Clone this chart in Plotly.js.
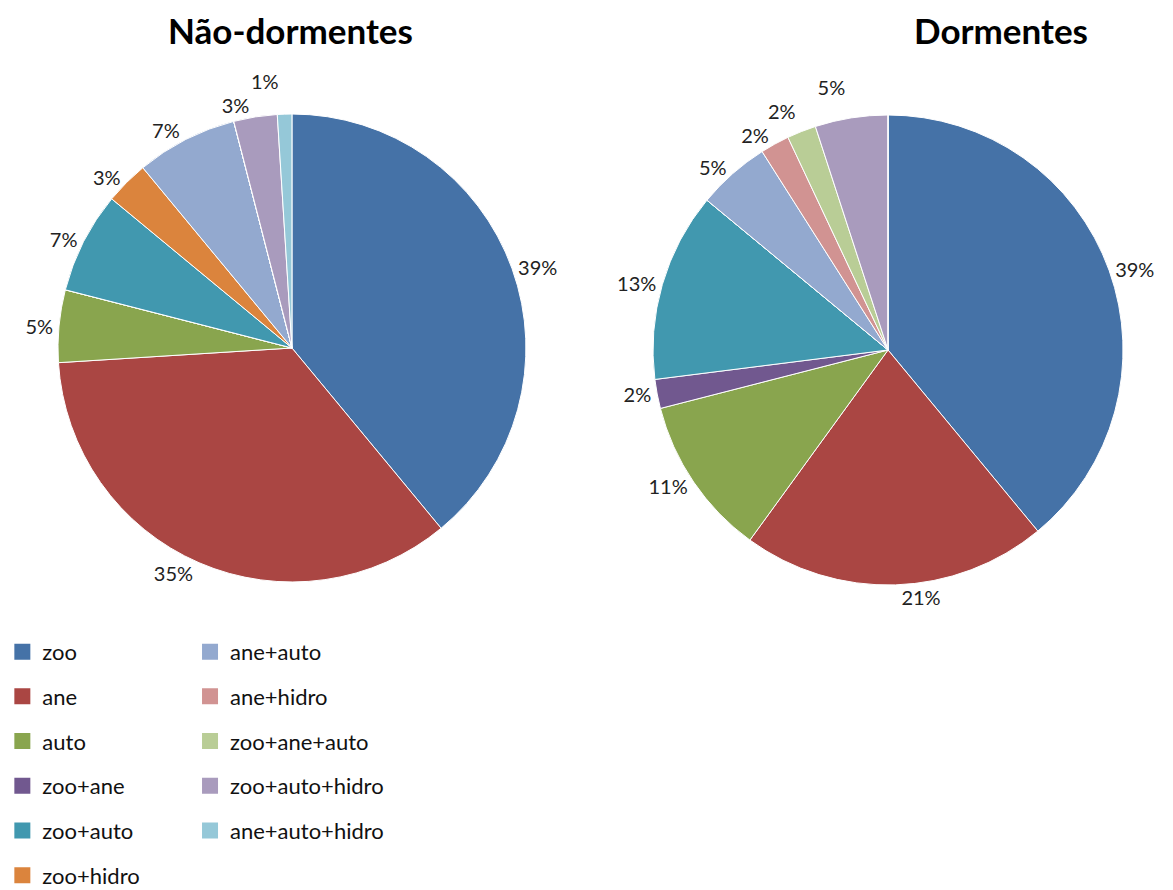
<!DOCTYPE html>
<html>
<head>
<meta charset="utf-8">
<script src="https://cdn.plot.ly/plotly-3.0.1.min.js"></script>
<style>
  body { margin: 0; background: #fff; }
  #plot { width: 1173px; height: 890px; }
  /* the original chart has no leader lines on the labels */
  .pielayer path.textline { display: none !important; }
</style>
</head>
<body>
<div id="plot"></div>
<script>
// categories (dispersal syndromes)
let categories = ['zoo', 'ane', 'auto', 'zoo+ane', 'zoo+auto', 'zoo+hidro',
                  'ane+auto', 'ane+hidro', 'zoo+ane+auto', 'zoo+auto+hidro', 'ane+auto+hidro']

// percentages
let naoDormentes = [39, 35, 5, 0, 7, 3, 7, 0, 0, 3, 1]
let dormentes    = [39, 21, 11, 2, 13, 0, 5, 2, 2, 5, 0]

// excel 2007 palette
let colors = ['#4572A7', '#AA4643', '#89A54E', '#71588F', '#4198AF', '#DB843D',
              '#93A9CF', '#D19392', '#B9CD96', '#A99BBD', '#95C8D8']

let font = 'Lato, "Open Sans", sans-serif'

// only label slices that exist
let pctText = vals => vals.map(v => v ? v + '%' : '')

let pieBase = {
    type: 'pie',
    labels: categories,
    sort: false,
    direction: 'clockwise',
    rotation: 0,
    textinfo: 'text',
    textposition: 'outside',
    outsidetextfont: {family: font, size: 20, color: '#222'},
    marker: {colors: colors, line: {color: '#fff', width: 1}},
    showlegend: false,
    hoverinfo: 'label+percent'
}

let trace1 = Object.assign({}, pieBase, {
    values: naoDormentes,
    text: pctText(naoDormentes),
    domain: {x: [0.0494, 0.4484], y: [0.3461, 0.8719]}
})

let trace2 = Object.assign({}, pieBase, {
    values: dormentes,
    text: pctText(dormentes),
    domain: {x: [0.5567, 0.9574], y: [0.3427, 0.8708]}
})

// legend entries: first six in one column, the rest in a second
let legendTraces = categories.map((c, i) => ({
    type: 'scatter',
    mode: 'markers',
    x: [null],
    y: [null],
    name: c,
    legendgroup: c,
    legend: i < 6 ? 'legend' : 'legend2',
    marker: {symbol: 'square', size: 16, color: colors[i]},
    hoverinfo: 'skip'
}))

let data = [trace1, trace2].concat(legendTraces)

let legendStyle = {
    font: {family: font, size: 22, color: '#111'},
    bgcolor: 'rgba(0,0,0,0)',
    tracegroupgap: 13.1,
    yanchor: 'top',
    y: 0.2912,
    itemclick: false,
    itemdoubleclick: false
}

let layout = {
    width: 1173,
    height: 890,
    margin: {l: 0, r: 0, t: 0, b: 0, autoexpand: false},
    paper_bgcolor: '#fff',
    plot_bgcolor: '#fff',
    xaxis: {visible: false},
    yaxis: {visible: false},
    legend: Object.assign({x: 0.002}, legendStyle),
    legend2: Object.assign({x: 0.162}, legendStyle),
    annotations: [
        {text: '<b>Não-dormentes</b>', x: 290 / 1173, y: 1 - 30 / 890, xref: 'paper', yref: 'paper',
         xanchor: 'center', yanchor: 'middle', showarrow: false, font: {family: font, size: 35, color: '#000'}},
        {text: '<b>Dormentes</b>', x: 1001 / 1173, y: 1 - 30 / 890, xref: 'paper', yref: 'paper',
         xanchor: 'center', yanchor: 'middle', showarrow: false, font: {family: font, size: 35, color: '#000'}}
    ]
}

Plotly.newPlot('plot', data, layout, {displayModeBar: false})
</script>
</body>
</html>
